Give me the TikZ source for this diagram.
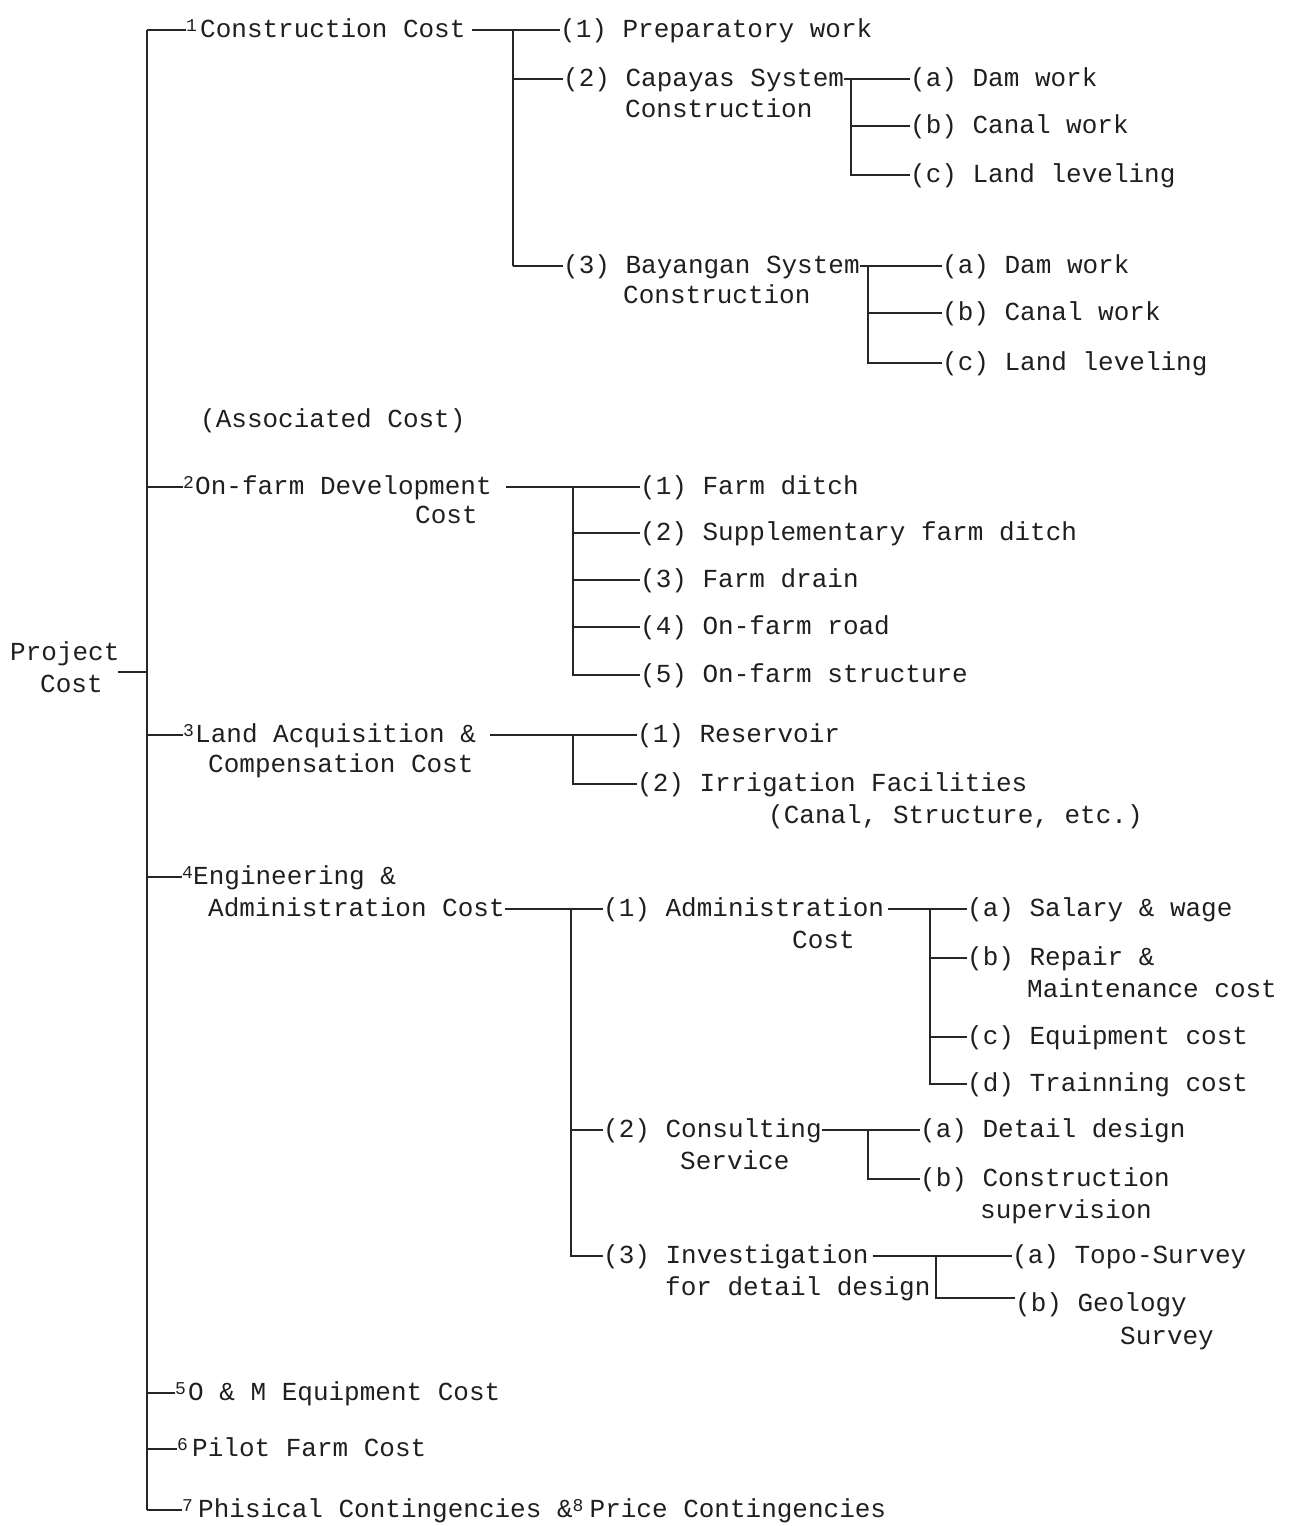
\documentclass[tikz,border=0pt]{standalone}
\usepackage{fontspec}
\setmainfont{Liberation Mono}
\newcommand\supn[2]{\makebox[#1][l]{\raisebox{6pt}{\fontsize{18}{18}\selectfont #2}}}
\begin{document}
\begin{tikzpicture}[x=1pt,y=-1pt,
  txt/.style={anchor=west,inner sep=0pt,text height=15pt,text depth=0pt,
    font=\fontsize{26}{30}\selectfont,text=black!88},
  conn/.style={draw=black!85,line width=1.8pt}]
\useasboundingbox (0,0) rectangle (1296,1526);
% root
\node[txt] (pc1) at (10,653) {Project};
\node[txt] (pc2) at (40,685) {Cost};
\coordinate (rootend) at (118,672);
\coordinate (b0) at (147,0);
% level 1
\node[txt] (l1) at (186,30) {\supn{14pt}{1}Construction Cost};
\node[txt] (assoc) at (200,420) {(Associated Cost)};
\node[txt] (l2) at (183,487) {\supn{12pt}{2}On-farm Development};
\node[txt] (l2b) at (415,516) {Cost};
\node[txt] (l3) at (183,735) {\supn{12pt}{3}Land Acquisition \&};
\node[txt] (l3b) at (208,765) {Compensation Cost};
\node[txt] (l4) at (182,877) {\supn{11pt}{4}Engineering \&};
\node[txt] (l4b) at (208,909) {Administration Cost};
\node[txt] (l5) at (175,1393) {\supn{13pt}{5}O \& M Equipment Cost};
\node[txt] (l6) at (177,1449) {\supn{15pt}{6}Pilot Farm Cost};
\node[txt] (l7) at (182,1510) {\supn{16pt}{7}Phisical Contingencies \&\supn{17pt}{8}Price Contingencies};
\draw[conn] (rootend) -- (rootend -| b0);
\draw[conn] (b0 |- l1.west) -- (b0 |- l7.west);
\foreach \n in {l1,l2,l3,l4,l5,l6,l7} \draw[conn] (b0 |- \n.west) -- (\n.west);
% 1 Construction cost
\node[txt] (m11) at (560,30) {(1) Preparatory work};
\node[txt] (m12) at (563,79) {(2) Capayas System};
\node[txt] (m12b) at (625,110) {Construction};
\node[txt] (m13) at (563,266) {(3) Bayangan System};
\node[txt] (m13b) at (623,296) {Construction};
\coordinate (bar1) at (513,0);
\draw[conn] ([xshift=6pt]l1.east) -- (m11.west);
\draw[conn] (bar1 |- m11.west) -- (bar1 |- m13.west);
\draw[conn] (bar1 |- m12.west) -- (m12.west);
\draw[conn] (bar1 |- m13.west) -- (m13.west);
% Capayas
\node[txt] (ca) at (910,79) {(a) Dam work};
\node[txt] (cb) at (910,126) {(b) Canal work};
\node[txt] (cc) at (910,175) {(c) Land leveling};
\coordinate (bar2) at (851,0);
\draw[conn] (m12.east) -- (ca.west);
\draw[conn] (bar2 |- ca.west) -- (bar2 |- cc.west) -- (cc.west);
\draw[conn] (bar2 |- cb.west) -- (cb.west);
% Bayangan
\node[txt] (ba) at (942,266) {(a) Dam work};
\node[txt] (bb) at (942,313) {(b) Canal work};
\node[txt] (bc) at (942,363) {(c) Land leveling};
\coordinate (bar3) at (868,0);
\draw[conn] (m13.east) -- (ba.west);
\draw[conn] (bar3 |- ba.west) -- (bar3 |- bc.west) -- (bc.west);
\draw[conn] (bar3 |- bb.west) -- (bb.west);
% 2 On-farm
\node[txt] (o1) at (640,487) {(1) Farm ditch};
\node[txt] (o2) at (640,533) {(2) Supplementary farm ditch};
\node[txt] (o3) at (640,580) {(3) Farm drain};
\node[txt] (o4) at (640,627) {(4) On-farm road};
\node[txt] (o5) at (640,675) {(5) On-farm structure};
\coordinate (bar4) at (573,0);
\draw[conn] ([xshift=14pt]l2.east) -- (o1.west);
\draw[conn] (bar4 |- o1.west) -- (bar4 |- o5.west) -- (o5.west);
\foreach \n in {o2,o3,o4} \draw[conn] (bar4 |- \n.west) -- (\n.west);
% 3 Land acquisition
\node[txt] (r1) at (637,735) {(1) Reservoir};
\node[txt] (r2) at (637,784) {(2) Irrigation Facilities};
\node[txt] (r2b) at (768,816) {(Canal, Structure, etc.)};
\coordinate (bar5) at (573,0);
\draw[conn] ([xshift=14pt]l3.east) -- (r1.west);
\draw[conn] (bar5 |- r1.west) -- (bar5 |- r2.west) -- (r2.west);
% 4 Engineering
\node[txt] (e1) at (603,909) {(1) Administration};
\node[txt] (e1b) at (792,941) {Cost};
\node[txt] (e2) at (603,1130) {(2) Consulting};
\node[txt] (e2b) at (680,1162) {Service};
\node[txt] (e3) at (603,1256) {(3) Investigation};
\node[txt] (e3b) at (665,1288) {for detail design};
\coordinate (bar6) at (571,0);
\draw[conn] (l4b.east) -- (e1.west);
\draw[conn] (bar6 |- e1.west) -- (bar6 |- e3.west) -- (e3.west);
\draw[conn] (bar6 |- e2.west) -- (e2.west);
% Administration
\node[txt] (d1) at (967,909) {(a) Salary \& wage};
\node[txt] (d2) at (967,958) {(b) Repair \&};
\node[txt] (d2b) at (1027,990) {Maintenance cost};
\node[txt] (d3) at (967,1037) {(c) Equipment cost};
\node[txt] (d4) at (967,1084) {(d) Trainning cost};
\coordinate (bar7) at (930,0);
\draw[conn] ([xshift=4pt]e1.east) -- (d1.west);
\draw[conn] (bar7 |- d1.west) -- (bar7 |- d4.west) -- (d4.west);
\foreach \n in {d2,d3} \draw[conn] (bar7 |- \n.west) -- (\n.west);
% Consulting
\node[txt] (s1) at (920,1130) {(a) Detail design};
\node[txt] (s2) at (920,1179) {(b) Construction};
\node[txt] (s2b) at (980,1211) {supervision};
\coordinate (bar8) at (868,0);
\draw[conn] (e2.east) -- (s1.west);
\draw[conn] (bar8 |- s1.west) -- (bar8 |- s2.west) -- (s2.west);
% Investigation
\node[txt] (t1) at (1012,1256) {(a) Topo-Survey};
\node[txt] (t2) at (1015,1304) {(b) Geology};
\node[txt] (t2b) at (1120,1337) {Survey};
\coordinate (bar9) at (936,0);
\coordinate (t2in) at (1015,1298);
\draw[conn] ([xshift=4pt]e3.east) -- (t1.west);
\draw[conn] (bar9 |- t1.west) -- (bar9 |- t2in) -- (t2in);
\end{tikzpicture}
\end{document}
